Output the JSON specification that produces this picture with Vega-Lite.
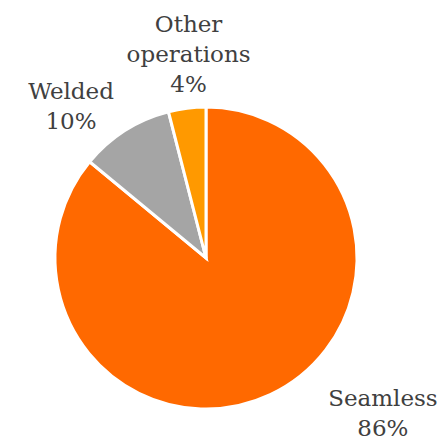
{
  "$schema": "https://vega.github.io/schema/vega-lite/v6.json",
  "width": 302,
  "height": 302,
  "autosize": "none",
  "padding": {"left": 55, "top": 107, "right": 82, "bottom": 31},
  "background": "white",
  "config": {"view": {"stroke": null}},
  "data": {
    "values": [
      {"category": "Seamless", "value": 86, "label": "Seamless\n86%"},
      {"category": "Welded", "value": 10, "label": "Welded\n10%"},
      {"category": "Other operations", "value": 4, "label": "Other\noperations\n4%"}
    ]
  },
  "encoding": {
    "theta": {"field": "value", "type": "quantitative", "stack": true},
    "order": {"field": "value", "sort": "descending"}
  },
  "layer": [
    {
      "mark": {"type": "arc", "outerRadius": 151, "stroke": "white", "strokeWidth": 3},
      "encoding": {
        "color": {
          "field": "category",
          "type": "nominal",
          "scale": {"domain": ["Seamless", "Welded", "Other operations"], "range": ["#FF6900", "#A5A5A5", "#FF9900"]},
          "legend": null
        }
      }
    },
    {
      "mark": {"type": "text", "radius": 226, "thetaOffset": -0.459, "font": "DejaVu Serif", "fontSize": 23, "lineHeight": 30, "lineBreak": "\n", "color": "#404040", "align": "center", "baseline": "middle"},
      "encoding": {"text": {"condition": {"test": "datum.category === 'Seamless'", "field": "label"}, "value": ""}}
    },
    {
      "mark": {"type": "text", "radius": 214, "thetaOffset": -0.117, "font": "DejaVu Serif", "fontSize": 23, "lineHeight": 30, "lineBreak": "\n", "color": "#404040", "align": "center", "baseline": "middle"},
      "encoding": {"text": {"condition": {"test": "datum.category === 'Welded'", "field": "label"}, "value": ""}}
    },
    {
      "mark": {"type": "text", "radius": 234, "thetaOffset": 0.051, "font": "DejaVu Serif", "fontSize": 23, "lineHeight": 30, "lineBreak": "\n", "color": "#404040", "align": "center", "baseline": "middle"},
      "encoding": {"text": {"condition": {"test": "datum.category === 'Other operations'", "field": "label"}, "value": ""}}
    }
  ]
}
